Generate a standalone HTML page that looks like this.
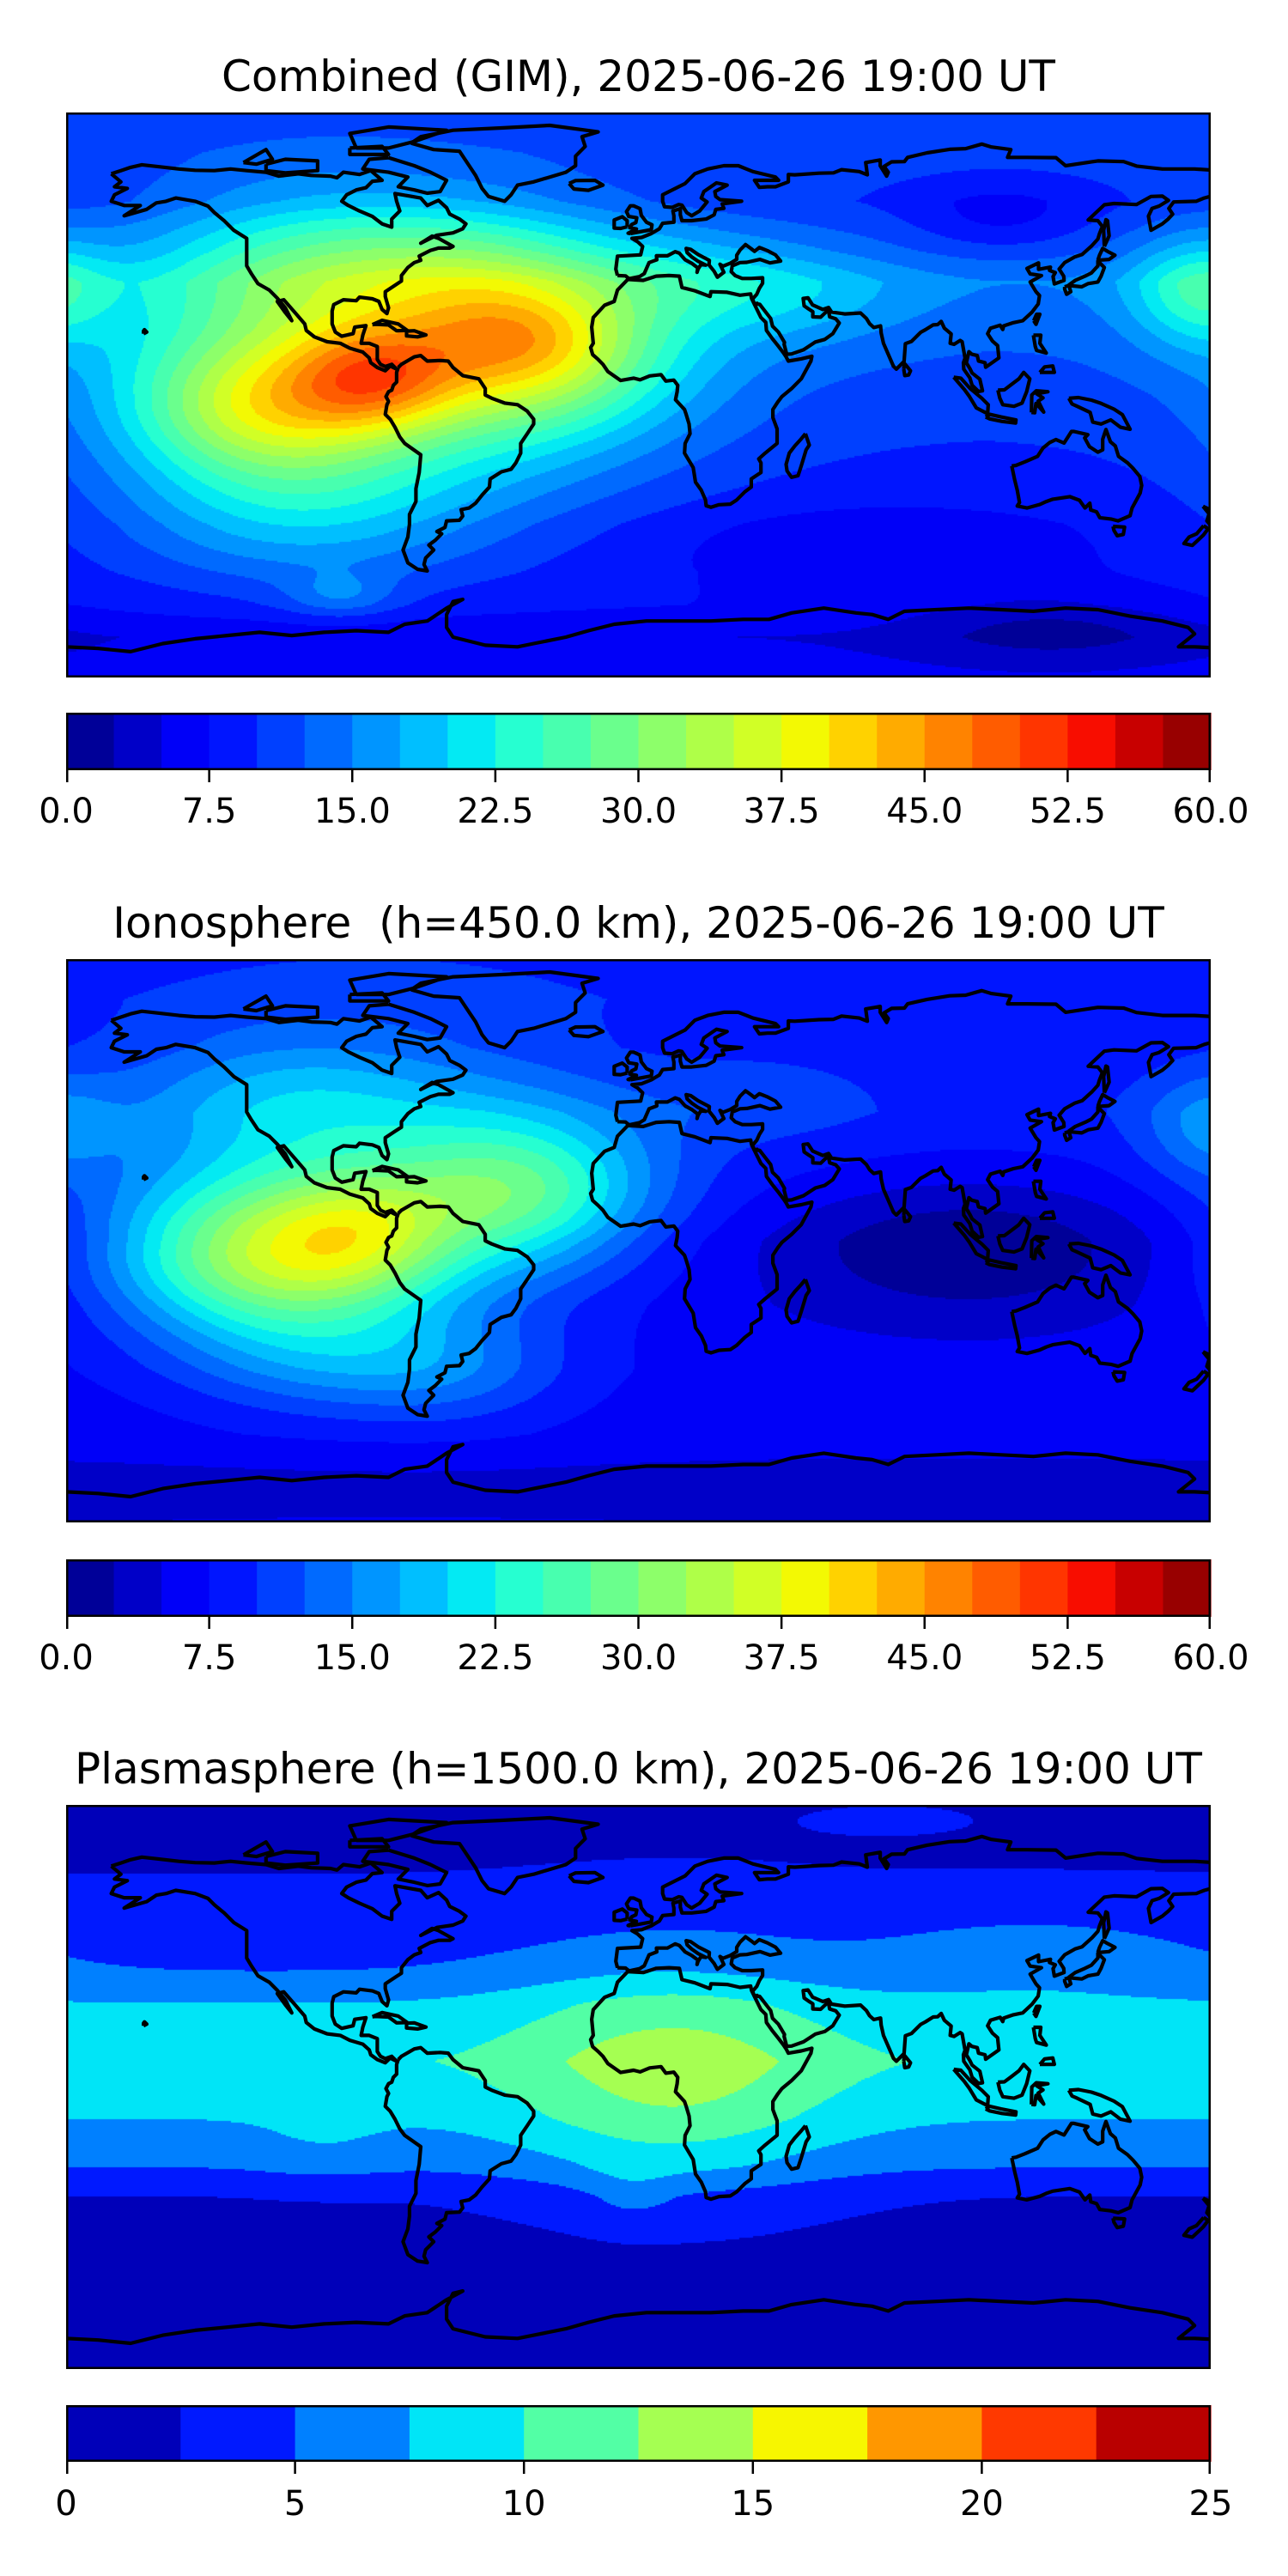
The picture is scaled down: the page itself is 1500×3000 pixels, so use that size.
<!DOCTYPE html>
<html><head><meta charset="utf-8">
<style>
html,body{margin:0;padding:0;background:#fff;}
#page{position:relative;width:1500px;height:3000px;overflow:hidden;background:#fff;}
canvas{position:absolute;}
svg{position:absolute;left:0;top:0;}
text{font-family:"DejaVu Sans","Liberation Sans",sans-serif;fill:#000;white-space:pre;}
</style></head>
<body>
<div id="page">
<canvas id="c1"></canvas>
<canvas id="c2"></canvas>
<canvas id="c3"></canvas>
<svg id="ov" width="1500" height="3000" viewBox="0 0 1500 3000"></svg>
</div>
<script>
// ---- data: map 1 (Combined GIM, TECU) ----
const m1ProfLat=[87.5,75,60,45,35,20,0,-20,-40,-55,-65,-75,-87.5];
const m1ProfVal=[11,11,10,12.5,15,13,11,9.5,8,8,7.5,5,6];
const m1BlobLon=[-85,-120,-35,-75,-105,-50,10,172,110,70,125,-95,50,-110,-40];
const m1BlobLat=[5,-5,10,8,42,40,35,32,55,-48,-72,-62,30,-38,20];
const m1BlobAmp=[13,16,12,18,8,7,5,10,-4,-3,-4,5,3,8,6];
const m1BlobSx=[18,28,28,55,35,30,30,15,20,40,30,12,25,40,22];
const m1BlobSy=[11,15,14,28,18,15,12,12,8,9,8,5,10,15,10];
// ---- data: map 2 (Ionosphere) ----
const m2ProfLat=[87.5,75,60,40,20,0,-20,-40,-60,-75,-87.5];
const m2ProfVal=[9,9,8,9,7,5,5,6,6,4,5];
const m2BlobLon=[-88,-115,-40,-80,100,175,-60,-110,40,-100];
const m2BlobLat=[3,-5,15,15,-2,35,-40,45,45,-38];
const m2BlobAmp=[8,24,15,8,-5,6,5,6,2,5];
const m2BlobSx=[20,35,28,60,40,15,25,35,25,30];
const m2BlobSy=[13,18,16,35,14,12,12,15,10,12];
// ---- data: map 3 (Plasmasphere) ----
const m3ProfLat=[87.5,76,66,50,36,26,8,-10,-25,-34,-50,-87.5];
const m3ProfVal=[1.5,2.0,2.5,3.6,5,7.5,9.5,7.5,5,2.5,1.5,1];
const m3BlobLon=[8,120,75,-5,-100];
const m3BlobLat=[3,42,84,-33,-18];
const m3BlobAmp=[4.8,2.0,1.2,1.5,1.2];
const m3BlobSx=[35,35,30,10,15];
const m3BlobSy=[28,10,5,7,8];
// ---- colorbar levels ----
const levelsA=[0,2.5,5,7.5,10,12.5,15,17.5,20,22.5,25,27.5,30,32.5,35,37.5,40,42.5,45,47.5,50,52.5,55,57.5,60];
const ticksA=[0,7.5,15,22.5,30,37.5,45,52.5,60];
const tickLabelsA=["0.0","7.5","15.0","22.5","30.0","37.5","45.0","52.5","60.0"];
const levelsB=[0,2.5,5,7.5,10,12.5,15,17.5,20,22.5,25];
const ticksB=[0,5,10,15,20,25];
const tickLabelsB=["0","5","10","15","20","25"];
const titles=["Combined (GIM), 2025-06-26 19:00 UT","Ionosphere  (h=450.0 km), 2025-06-26 19:00 UT","Plasmasphere (h=1500.0 km), 2025-06-26 19:00 UT"];

// coastlines (lon,lat)
const coasts=[
[[-166,68.5],[-163,66],[-165,64.5],[-161,64],[-165,62],[-166,60],[-162,58.7],[-157,58.7],[-162,55.5],[-155,57.5],[-152,59.5],[-149,60],[-146,61],[-140,60],[-136,58.5],[-134,56.5],[-131,54],[-128,51],[-124,48.5],[-124,46],[-124,42],[-124,40],[-122.5,37.5],[-120.5,34.5],[-117,32.5],[-114.5,30],[-112,27],[-110,23],[-112,25.5],[-114.5,29],[-112.5,29.5],[-109,25.5],[-106,22],[-105.5,20],[-103,18],[-99,16.5],[-95,16],[-92,14.5],[-88,13.3],[-86,11.5],[-85.5,10],[-83.5,8.5],[-81,7.5],[-79.5,9],[-77.5,8],[-79,9.5],[-81,8.8],[-82.5,9.5],[-83.5,11],[-83.5,15],[-86,16],[-88.5,16],[-88,18.5],[-87,21.5],[-90.5,21],[-91,19],[-94.5,18.2],[-96.5,19.5],[-97.5,22],[-97.5,26],[-97,28],[-94,29.5],[-90,29.2],[-89,30.3],[-85,29.8],[-83,29],[-82,26.5],[-80.5,25.2],[-80,27],[-81,30.5],[-81,32],[-78,34],[-76,35.3],[-76,37],[-74,39.5],[-72,41],[-70,41.7],[-70.5,43],[-67,44.8],[-64.5,45.5],[-61,45.5],[-60,46],[-64.5,48.5],[-66.5,49.2],[-70,47],[-65,49.5],[-60,50.2],[-57,51.5],[-56,53],[-58,54.5],[-61,56],[-62,58],[-64.5,60.3],[-68,58.7],[-70,61],[-78,62.4],[-77.5,60],[-76.5,57],[-79,54.5],[-79,52],[-82,53],[-85,55.3],[-89,57],[-92.5,58.7],[-94.5,60],[-93,62],[-90,63.5],[-87,64.2],[-85,66.2],[-82,66.5],[-85.5,69.5],[-89,68.3],[-94,69],[-96,67.3],[-98,67.8],[-104,68],[-108,68.5],[-114,67.8],[-118,69],[-124,69.5],[-129,70],[-134,69.5],[-140,69.6],[-145,70],[-152,70.8],[-156.5,71.3],[-160,70.5],[-163,69.5],[-166,68.5]],
[[-80,73.5],[-72,71],[-67,69],[-62,66.5],[-64,63],[-68,62.5],[-72,63.5],[-77,64.5],[-74,67.5],[-80,69],[-88,70],[-86,73],[-80,73.5]],
[[-118,71.5],[-112,73],[-102,72.5],[-102,69.5],[-112,68.8],[-118,69.5],[-118,71.5]],
[[-90,76.5],[-80,76.5],[-72,78.5],[-62,82],[-80,83],[-92,81],[-90,76.5]],
[[-125,72],[-118,76],[-116,73],[-121,71.5],[-125,72]],
[[-92,76.5],[-82,77],[-80,74.5],[-92,74.5],[-92,76.5]],
[[-73,78],[-66,76],[-58,75.5],[-55,71],[-53,68],[-51,64],[-49,61.5],[-44,60],[-42,62],[-40,65],[-35,66],[-25,69],[-22,71],[-22,74],[-19,77],[-20,80],[-15,81.5],[-30,83.5],[-45,82.7],[-60,82],[-70,80],[-73,78]],
[[-24,65.5],[-22,66.4],[-16,66.5],[-13.5,65],[-18,63.4],[-22.5,63.8],[-24,65.5]],
[[-85,21.8],[-82,23.1],[-77,22],[-74.2,20],[-77.5,19.9],[-80,21.7],[-84,21.9],[-85,21.8]],
[[-74.4,19.8],[-72,19.9],[-68.4,18.6],[-71,18],[-74.4,18.3],[-74.4,19.8]],
[[-77,8.5],[-76,9.5],[-72,11.8],[-70,12.2],[-68,10.5],[-64,10.7],[-61.5,10.5],[-60,8.5],[-57,6],[-52,5],[-50,2],[-50,0],[-48,-1],[-44,-2.5],[-40,-3],[-37,-5],[-35,-7.5],[-35,-9],[-37,-12],[-39,-15],[-39,-18],[-40.5,-21],[-42,-23],[-45,-23.8],[-48.5,-26],[-48.7,-28.5],[-51,-31],[-53,-33.5],[-55,-35],[-57.5,-35.5],[-57,-37.5],[-58,-38.8],[-62,-39],[-62.5,-41],[-65,-42.3],[-63.5,-43],[-65.5,-45],[-67.5,-46.5],[-66,-48],[-68.5,-50.5],[-69,-52.5],[-68,-54.5],[-71,-54],[-74,-52],[-75.5,-48],[-74,-44],[-73.5,-40],[-73.5,-37],[-71.5,-33],[-71.5,-29],[-70.5,-24],[-70,-18.5],[-75,-15],[-76.5,-13],[-78,-10],[-79.5,-7.5],[-81,-6],[-80.5,-3],[-80,-2],[-80.8,-0.5],[-80,1],[-79,1.5],[-78.5,3],[-77.5,4],[-77.5,7],[-77,8.5]],
[[-5.8,35.8],[-9,32.5],[-10,29],[-13,27.8],[-16.5,24],[-17,21],[-16.5,16],[-17.3,14.7],[-16.7,12.5],[-15,11],[-13.5,9.5],[-12,7.3],[-8,4.5],[-4,5.2],[-2,4.7],[1,5.9],[4.5,6.3],[6,4.3],[8.5,4.6],[9.7,3],[9.5,1],[9,-1.5],[11.8,-4.5],[12.3,-6],[13.2,-9],[13.5,-12],[12,-15],[11.8,-18],[14.5,-22.5],[15.2,-27],[17,-29.5],[18.3,-32.5],[18.5,-34.3],[20,-34.8],[22.5,-34],[26,-33.8],[28,-32.5],[30.5,-30],[32.5,-28.5],[32.5,-26],[35.5,-24],[35.5,-21],[34.8,-19.8],[36.8,-18],[40.5,-15],[40.5,-10.5],[39.2,-7],[39.2,-4.5],[40.7,-2.2],[42,-0.5],[45,2],[48,5],[51,10.5],[51.3,12],[48,11.2],[44,10.5],[43.3,11.8],[42.5,13],[41,15],[39,17.5],[37.2,20],[37,22.5],[35.5,24],[34,27],[32.6,29.9],[32.3,31.3],[29,30.9],[25,31.8],[20,32],[19.7,30.5],[15,32.3],[11,33.3],[10.2,36.8],[7,37],[3,36.8],[-1,35.5],[-5.8,35.8]],
[[49.3,-12],[50.5,-15.5],[49.5,-17],[48,-22],[47,-25],[45,-25.5],[43.6,-23.5],[43.3,-21.5],[44.3,-18],[46,-15.8],[48,-13.6],[49.3,-12]],
[[-9,37],[-9.5,39],[-9,43],[-1.8,43.4],[-1.2,46],[-2.8,47.5],[-4.5,48.5],[-1.5,48.8],[1.5,50],[4,51.5],[5,53.2],[8.5,53.5],[8.5,55.5],[8.2,57],[10.5,57.7],[10.5,55.8],[11,54],[14,54],[18.5,54.5],[21,55.8],[21.5,57.5],[24,57.8],[23.5,59.2],[29.5,60],[22.8,60.5],[21.5,61.5],[21.2,63],[25,65],[21.7,65.7],[17.8,63],[17,61],[18.8,59.8],[16.5,57],[14,55.5],[12.5,56.5],[11,58.8],[10,59],[8,58.1],[5.6,58.3],[5,60],[5,62],[8,63.5],[12,65.5],[15,68.5],[19,70],[24,71],[28.5,71],[31,70],[33,69.2],[40,67.5],[41,66.5],[33.5,66.5],[35,64.3],[37.5,64.5],[40,64.5],[44,66],[44,68.3],[46,68.2],[53.5,68.7],[58,68.8],[60.5,69.8],[66,69.2],[68.5,68.2],[68,72],[72.5,72.8],[72.5,71],[74.5,67.8],[75,69],[73.7,70.8],[76,72.2],[80,72.3],[81,73.6],[87,75],[94,76.1],[99,76.3],[104,77.7],[107,76.8],[113,76],[112,73.6],[118,73.6],[127,73.5],[130,71],[140,72.5],[148,72.3],[152,70.9],[160,70],[170,70],[178,69.5],[180,68.5],[180,65.5],[176,65],[178.5,62.5],[173,61],[170.5,60],[163.5,59.8],[162,57.8],[163.2,56],[161.8,54.5],[160,53],[156.5,51],[155.7,55.4],[156.8,57.8],[159,58.5],[161.9,60.3],[160,61.6],[156.5,61.5],[152,59],[145,59.3],[142,58.9],[137,54.2],[140,54],[141.4,52.2],[140.5,50],[140,48.3],[138.2,46.3],[135.1,43.5],[132.9,42.8],[129.7,41],[128,39],[129.4,36.8],[129.5,35.5],[126.5,34.4],[126.1,36.7],[126.8,37.9],[125,38.6],[125.3,39.6],[121.6,38.9],[121.6,40.9],[118,39.2],[119,37.5],[122.5,37],[119,35],[120.8,32],[121.9,30.8],[121.5,28.2],[119.6,25.7],[116.7,23],[113.8,22.4],[110.8,21.4],[110.5,20.3],[109.7,21.6],[106.7,20.7],[105.8,19],[107.3,16.7],[108.9,15.3],[109.3,11.5],[105.2,8.6],[105,10],[103,10.5],[102.6,12.2],[100.9,12.6],[100,13.4],[99.2,10],[100.3,8.2],[101,6.8],[103.4,4.9],[104.2,1.3],[103,1.1],[101,3],[100.3,5.3],[98.4,8],[98.3,10],[98.8,11.4],[97.9,16.5],[97.3,16.9],[95.4,15.7],[94.2,16],[94.5,18.9],[92.4,20.7],[91.4,22.8],[90.3,21.8],[88.9,21.7],[86.5,20.2],[85,19.4],[82.2,16.6],[80.3,15.9],[79.9,10.4],[77.5,8],[76.6,8.9],[73.5,16],[72.8,19.2],[72.6,21.4],[70.5,20.9],[69.2,22.1],[68.2,23.7],[66.4,25.4],[61.5,25.1],[57.4,25.7],[56.5,27.1],[54.7,26.5],[51.5,27.9],[50.1,30.1],[48.6,29.9],[48.9,27.6],[50.2,26.7],[51.6,25.8],[51.6,24.2],[54,24.1],[56.4,26.4],[56.8,24.2],[58.7,23.6],[59.8,22.3],[57.8,19],[55.3,17.2],[52.4,16.4],[48.7,14],[45,12.7],[43.5,12.6],[42.7,15.7],[42.8,16.3],[40.9,19.5],[39.1,21.3],[38.5,23.7],[37.5,25],[35.1,28.1],[34.6,28.1],[34.3,28.4],[33.5,28.1],[32.9,29.7],[34.2,31.2],[35,33],[36,34.6],[36,36.3],[32.5,36.1],[29.7,36.1],[27.5,37],[26.3,38.2],[26.6,40],[29,41],[31.1,41.1],[35.2,42],[38.3,40.9],[41.6,41.5],[40,43.4],[37.5,44.7],[35,45.7],[33.5,44.5],[32.5,45.3],[30.7,46.6],[29,44.9],[28,43.3],[28,42],[26,40.8],[23.7,39.9],[22.8,40.5],[24,38],[22,36.5],[21,38.3],[19.4,40.3],[19.5,41.7],[16,43.5],[13.7,45.1],[12.3,45.4],[12.6,44.1],[14,42.8],[16,41.4],[18.4,40.2],[16.9,40.4],[16,39],[15.7,38],[15.9,39.4],[14,40.8],[12,41.9],[10.2,43.9],[8.9,44.4],[6.5,43.1],[3.1,43.1],[3.2,41.9],[0.8,41],[-0.7,37.6],[-2.1,36.7],[-5.4,36],[-6.5,36.9],[-9,37]],
[[-5,50],[1.5,51.2],[1.7,52.7],[0,53.5],[-1.6,55.6],[-2,57.7],[-4,58.6],[-5,58.6],[-6.2,56.8],[-5.5,55.3],[-3,54.9],[-3.3,53.4],[-4.6,52.8],[-5.2,51.8],[-3.1,51.4],[-5.7,50.1],[-5,50]],
[[-6,52.1],[-6,54],[-7.5,55.2],[-10,54.2],[-10,51.7],[-8,51.6],[-6,52.1]],
[[130.9,34],[133,35.5],[136,36.8],[138,37.8],[140,40],[140,41.5],[142,39.5],[141,36.8],[140,35],[137,34.5],[135,33.5],[132,33.8],[130.9,34]],
[[140,41.8],[140.5,43.3],[141.5,45.4],[143,44.5],[145.3,43.3],[143.5,42],[141,41.8],[140,41.8]],
[[129.7,33.5],[131,33.9],[131.6,32],[130.3,31.2],[129.7,32.8],[129.7,33.5]],
[[142,46],[143.5,49.3],[143,54],[142.5,54.3],[141.8,51],[142,46]],
[[120.1,23],[121,25],[122,25],[120.8,21.9],[120.1,23]],
[[79.8,8],[80,9.8],[81.9,7.5],[81.3,6.2],[80.1,6],[79.8,8]],
[[120,18.5],[122.3,18.5],[122,16],[124,13],[121,13.8],[120.6,15],[120,18.5]],
[[122,7],[126.5,7],[126,9],[123.5,8.7],[122,7]],
[[109,1.5],[109.6,-1],[110.5,-3],[114,-3.5],[116.5,-2.5],[117.9,1],[118.9,5],[117,7],[115.5,5],[113,3.1],[111,1.6],[109,1.5]],
[[95.3,5.5],[97.5,5.2],[100.4,2],[104,-1],[106,-3],[105.8,-5.8],[102.3,-4],[100.2,-0.5],[98.6,1.7],[95.3,5.5]],
[[105.2,-6.8],[106.5,-6],[110,-6.8],[114.6,-7.7],[114.5,-8.7],[110.3,-8.2],[106.4,-7.4],[105.2,-6.8]],
[[119.4,-5.4],[119.5,0],[120.9,1.3],[124.5,1],[121,0.4],[123,-0.9],[121.5,-1.9],[123.2,-5.3],[120.8,-2.6],[120.4,-5.5],[119.4,-5.4]],
[[131,-1],[134,-0.8],[138,-1.6],[141,-2.6],[145,-4.4],[147.6,-6.1],[150,-10.6],[147,-10],[144,-7.7],[141,-9],[138.4,-8.4],[137.6,-5.4],[133.6,-3.5],[132,-2.8],[131,-1]],
[[113.3,-22],[114.2,-26.3],[115,-29.5],[115.7,-33.3],[115,-34.4],[118,-35],[122,-33.9],[124,-33],[126,-32.3],[131.3,-31.5],[134.3,-32.6],[136,-35],[137.5,-33.5],[137.8,-35.6],[139.6,-36.2],[140.6,-38],[144,-38.4],[146.3,-39],[150,-37.4],[150.6,-35],[151.7,-33],[153.1,-30.4],[153.6,-28],[153,-25.2],[150.9,-22.7],[149.2,-21],[146.4,-19],[145.4,-15.8],[143.9,-14.5],[142.5,-10.7],[141.5,-13.7],[141.5,-17],[140,-17.7],[137.4,-16],[135.9,-13.3],[136.9,-12.3],[132.6,-11.3],[131.8,-11.3],[129.5,-14.9],[127,-13.8],[125.1,-14.7],[123,-16.4],[121.3,-19],[117.4,-20.7],[114.6,-21.8],[113.3,-22]],
[[144.7,-40.7],[148.3,-40.9],[147.9,-43.2],[146,-43.6],[145,-42],[144.7,-40.7]],
[[172.6,-34.5],[174.3,-35.3],[176,-37.6],[178.5,-37.7],[177,-39.3],[175.2,-41.6],[174.6,-39.9],[173.8,-39],[174.5,-36.8],[172.6,-34.5]],
[[172.8,-40.5],[174.2,-41.4],[172.7,-43.4],[171,-45],[169.3,-46.6],[166.7,-46],[168.3,-44],[170.6,-43],[172.8,-40.5]],
[[-156,19],[-155,19.5],[-155.7,20.2],[-156,19.8],[-156,19]],
[[-180,-78],[-170,-78.5],[-160,-79.5],[-150,-77],[-140,-75.5],[-130,-74.5],[-120,-73.5],[-110,-74.5],[-100,-73.5],[-90,-73],[-80,-73.5],[-75,-71],[-68,-70],[-62,-66],[-57,-63.3],[-60,-64],[-62,-68],[-62,-72],[-60,-75],[-50,-77.5],[-40,-78],[-35,-77],[-25,-75],[-18,-73],[-10,-71],[0,-70],[10,-70],[20,-70],[30,-69.5],[38,-69.5],[45,-67.5],[55,-66],[65,-67.5],[70,-68],[75,-69.5],[80,-67],[90,-66.5],[100,-66],[110,-66.5],[120,-67],[130,-66],[140,-66.5],[150,-68.5],[160,-70],[168,-72],[170,-74],[165,-78],[170,-78],[180,-78.5]]
];

// ---- layout ----
const AX_L=77, AX_R=1410;
const maps=[
 {id:'c1',top:131,bot:789,cbTop:830,cbBot:897,titleY:106,tickY:958,prof:[m1ProfLat,m1ProfVal],bl:[m1BlobLon,m1BlobLat,m1BlobAmp,m1BlobSx,m1BlobSy],lev:levelsA,ticks:ticksA,tl:tickLabelsA,name:'combined'},
 {id:'c2',top:1117,bot:1773,cbTop:1816,cbBot:1883,titleY:1092,tickY:1944,prof:[m2ProfLat,m2ProfVal],bl:[m2BlobLon,m2BlobLat,m2BlobAmp,m2BlobSx,m2BlobSy],lev:levelsA,ticks:ticksA,tl:tickLabelsA,name:'ionosphere'},
 {id:'c3',top:2102,bot:2759,cbTop:2801,cbBot:2867,titleY:2077,tickY:2929,prof:[m3ProfLat,m3ProfVal],bl:[m3BlobLon,m3BlobLat,m3BlobAmp,m3BlobSx,m3BlobSy],lev:levelsB,ticks:ticksB,tl:tickLabelsB,name:'plasmasphere'}
];
const LON0=-180, LON1=175, LAT0=-87.5, LAT1=87.5;

function seg(x,pts){for(let i=0;i<pts.length-1;i++){const a=pts[i],b=pts[i+1];if(x<=b[0]){return a[1]+(b[1]-a[1])*(x-a[0])/(b[0]-a[0]);}}return pts[pts.length-1][1];}
function jet(x){
  const r=seg(x,[[0,0],[0.35,0],[0.66,1],[0.89,1],[1,0.5]]);
  const g=seg(x,[[0,0],[0.125,0],[0.375,1],[0.64,1],[0.91,0],[1,0]]);
  const b=seg(x,[[0,0.5],[0.11,1],[0.34,1],[0.65,0],[1,0]]);
  return [Math.round(r*255),Math.round(g*255),Math.round(b*255)];
}
function levColors(lev){const n=lev.length-1,lo=lev[0],hi=lev[n];const out=[];for(let i=0;i<n;i++){out.push(jet(((lev[i]+lev[i+1])/2-lo)/(hi-lo)));}return out;}
function profAt(lat,pl,pv){
  for(let i=0;i<pl.length-1;i++){ if(lat<=pl[i]&&lat>=pl[i+1]){const t=(lat-pl[i])/(pl[i+1]-pl[i]);return pv[i]+t*(pv[i+1]-pv[i]);} }
  return lat>pl[0]?pv[0]:pv[pv.length-1];
}
function field(lon,lat,m){
  let v=profAt(lat,m.prof[0],m.prof[1]);
  const [bl,bt,ba,sx,sy]=m.bl;
  for(let k=0;k<bl.length;k++){
    let dl=lon-bl[k];dl=((dl+540)%360)-180;
    const q=(dl/sx[k])**2+((lat-bt[k])/sy[k])**2;
    if(q<30)v+=ba[k]*Math.exp(-0.5*q);
  }
  return v;
}
const NS='http://www.w3.org/2000/svg';
const svg=document.getElementById('ov');
function el(tag,attrs,parent){const e=document.createElementNS(NS,tag);for(const k in attrs)e.setAttribute(k,attrs[k]);(parent||svg).appendChild(e);return e;}

const defs=el('defs',{});
maps.forEach((m,mi)=>{
  const W=AX_R-AX_L, H=m.bot-m.top;
  const cv=document.getElementById(m.id);
  cv.width=W;cv.height=H;cv.style.left=AX_L+'px';cv.style.top=m.top+'px';
  const ctx=cv.getContext('2d');
  const cols=levColors(m.lev), n=cols.length, lo=m.lev[0], step=m.lev[1]-m.lev[0];
  const img=ctx.createImageData(W,H);const d=img.data;const S=2;
  for(let py=0;py<H;py+=S){
    const lat=LAT1-(py+S/2)/H*(LAT1-LAT0);
    for(let px=0;px<W;px+=S){
      const lon=LON0+(px+S/2)/W*(LON1-LON0);
      let idx=Math.floor((field(lon,lat,m)-lo)/step);idx=Math.max(0,Math.min(n-1,idx));
      const c=cols[idx];
      for(let yy=py;yy<Math.min(H,py+S);yy++)for(let xx=px;xx<Math.min(W,px+S);xx++){const o=(yy*W+xx)*4;d[o]=c[0];d[o+1]=c[1];d[o+2]=c[2];d[o+3]=255;}
    }
  }
  ctx.putImageData(img,0,0);

  const cp=el('clipPath',{id:'clip'+mi},defs);
  el('rect',{x:AX_L,y:m.top,width:W,height:H},cp);
  const g=el('g',{'clip-path':'url(#clip'+mi+')'});
  
  
  const xOf=lon=>AX_L+(lon-LON0)/(LON1-LON0)*W;
  const yOf=lat=>m.top+(LAT1-lat)/(LAT1-LAT0)*H;
  coasts.forEach(poly=>{
    const dstr=poly.map((p,i)=>(i?'L':'M')+xOf(p[0]).toFixed(1)+' '+yOf(p[1]).toFixed(1)).join('');
    const p=el('path',{d:dstr,fill:'none',stroke:'#000','stroke-width':4.2,'stroke-linejoin':'round'},g);
    
    
  });
  const fr=el('rect',{x:AX_L+1.25,y:m.top+1.25,width:W-2.5,height:H-2.5,fill:'none',stroke:'#000','stroke-width':2.5});
  
  

  const t=el('text',{x:(AX_L+AX_R)/2,y:m.titleY,'text-anchor':'middle','font-size':50,'xml:space':'preserve'});
  t.textContent=titles[mi];
  
  

  const cb=el('g',{});
  
  
  const lev=m.lev, hi=lev[lev.length-1];
  const cx=v=>AX_L+(v-lo)/(hi-lo)*W;
  for(let i=0;i<n;i++){
    const r=el('rect',{x:cx(lev[i]).toFixed(2),y:m.cbTop,width:(cx(lev[i+1])-cx(lev[i])+0.6).toFixed(2),height:m.cbBot-m.cbTop,fill:'rgb('+cols[i].join(',')+')'},cb);
    
    
  }
  el('rect',{x:AX_L+1.25,y:m.cbTop+1.25,width:W-2.5,height:m.cbBot-m.cbTop-2.5,fill:'none',stroke:'#000','stroke-width':2.5},cb);
  m.ticks.forEach((tv,i)=>{
    const x=cx(tv);const xx=Math.min(Math.max(x,AX_L+1.25),AX_R-1.25);
    const tk=el('line',{x1:xx,x2:xx,y1:m.cbBot,y2:m.cbBot+14,stroke:'#000','stroke-width':2.5},cb);
    
    
    const lb=el('text',{x:x,y:m.tickY,'text-anchor':'middle','font-size':40},cb);
    lb.textContent=m.tl[i];
    
    
  });
});
</script>
</body></html>
